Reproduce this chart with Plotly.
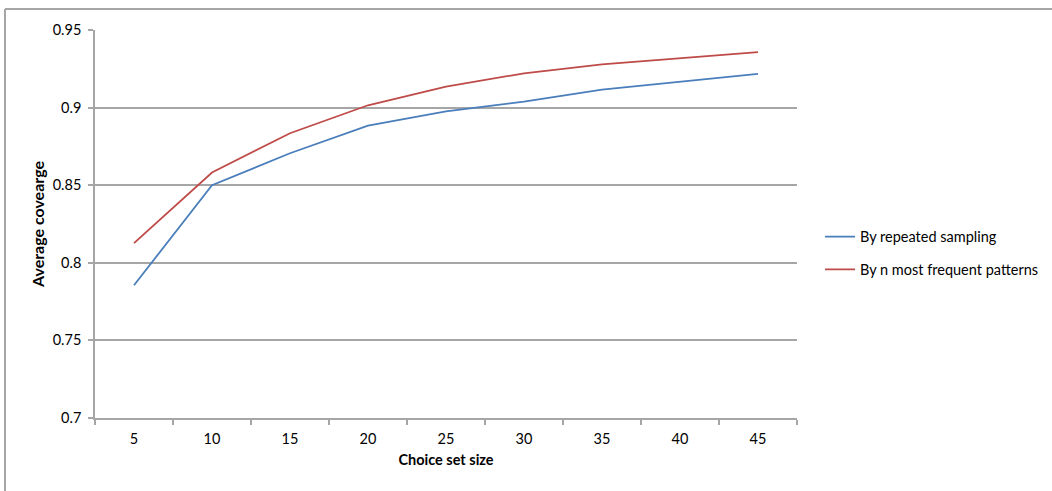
import plotly.graph_objects as go

categories = ["5", "10", "15", "20", "25", "30", "35", "40", "45"]
repeated_sampling = [0.7855, 0.850, 0.8706, 0.8884, 0.8975, 0.9039, 0.9116, 0.9167, 0.9217]
most_frequent = [0.8127, 0.8582, 0.8835, 0.9015, 0.9135, 0.9221, 0.9279, 0.9317, 0.9358]
y_ticks = [0.7, 0.75, 0.8, 0.85, 0.9, 0.95]
y_tick_text = ["0.7", "0.75", "0.8", "0.85", "0.9", "0.95"]

FONT = "Lato, Calibri, 'Open Sans', sans-serif"
FS = 14.5
GRID = "#a6a6a6"

fig = go.Figure()
fig.add_trace(go.Scatter(x=categories, y=repeated_sampling, mode="lines",
                         name="By repeated sampling", legendgroup="a",
                         line=dict(color="#4a7ebb", width=1.8)))
fig.add_trace(go.Scatter(x=categories, y=most_frequent, mode="lines",
                         name="By n most frequent patterns", legendgroup="b",
                         line=dict(color="#be4b48", width=1.8)))

fig.update_layout(
    width=1052, height=491,
    margin=dict(l=95, r=255, t=30, b=73),
    paper_bgcolor="white", plot_bgcolor="white",
    font=dict(family=FONT, size=FS, color="#000000"),
    showlegend=True,
    legend=dict(xref="container", x=0.7795, y=0.425, xanchor="left", yanchor="middle",
                itemwidth=30, tracegroupgap=11, traceorder="grouped",
                font=dict(family=FONT, size=FS), bgcolor="rgba(0,0,0,0)"),
    xaxis=dict(type="category", tickson="boundaries", ticks="outside",
               ticklen=5, tickcolor=GRID, tickwidth=1.5,
               showline=True, linecolor=GRID, linewidth=1.5,
               showgrid=False, zeroline=False,
               range=[-0.5, 8.5], ticklabelstandoff=7,
               tickfont=dict(family=FONT, size=FS),
               title=dict(text="<b>Choice set size</b>", standoff=9,
                          font=dict(family=FONT, size=FS))),
    yaxis=dict(range=[0.7, 0.95], tickvals=y_ticks, ticktext=y_tick_text,
               ticks="outside", ticklen=5, tickcolor=GRID, tickwidth=1.5,
               showline=True, linecolor=GRID, linewidth=1.5,
               showgrid=True, gridcolor=GRID, gridwidth=1.5, zeroline=False,
               ticklabelstandoff=4,
               tickfont=dict(family=FONT, size=FS),
               title=dict(text="<b>Average covearge</b>", standoff=4,
                          font=dict(family=FONT, size=16))),
    shapes=[
        dict(type="line", xref="paper", yref="paper",
             x0=-0.1282, x1=-0.1282, y0=-0.25, y1=1.054,
             line=dict(color="#a6a6a6", width=2)),
        dict(type="line", xref="paper", yref="paper",
             x0=-0.1282, x1=1.45, y0=1.054, y1=1.054,
             line=dict(color="#a6a6a6", width=2)),
    ],
)

fig.write_html("out.html", config={"displayModeBar": False},
               post_script="document.body.style.margin='0';document.body.style.overflow='hidden';")
